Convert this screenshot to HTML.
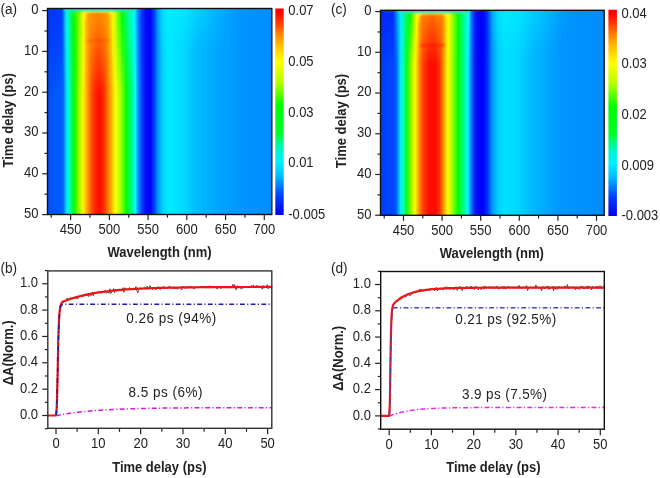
<!DOCTYPE html>
<html><head><meta charset="utf-8"><style>
html,body{margin:0;padding:0;background:#fff;}
svg{display:block;filter:blur(0.4px);}
text{font-family:"Liberation Sans", sans-serif;fill:#222;}
</style></head><body>
<svg width="660" height="478" viewBox="0 0 660 478">
<defs><linearGradient id="aspec" x1="0" y1="0" x2="1" y2="0"><stop offset="0.0000" stop-color="rgb(0,80,255)"/><stop offset="0.0557" stop-color="rgb(0,90,255)"/><stop offset="0.0700" stop-color="rgb(0,100,255)"/><stop offset="0.0780" stop-color="rgb(0,170,255)"/><stop offset="0.0869" stop-color="rgb(0,240,255)"/><stop offset="0.1003" stop-color="rgb(0,255,170)"/><stop offset="0.1173" stop-color="rgb(0,255,0)"/><stop offset="0.1404" stop-color="rgb(150,255,0)"/><stop offset="0.1578" stop-color="rgb(255,255,0)"/><stop offset="0.1748" stop-color="rgb(255,170,0)"/><stop offset="0.1917" stop-color="rgb(255,95,0)"/><stop offset="0.2082" stop-color="rgb(255,45,0)"/><stop offset="0.2265" stop-color="rgb(255,15,0)"/><stop offset="0.2407" stop-color="rgb(255,25,0)"/><stop offset="0.2564" stop-color="rgb(255,65,0)"/><stop offset="0.2773" stop-color="rgb(255,150,0)"/><stop offset="0.3027" stop-color="rgb(255,255,0)"/><stop offset="0.3246" stop-color="rgb(170,255,0)"/><stop offset="0.3518" stop-color="rgb(0,255,0)"/><stop offset="0.3754" stop-color="rgb(0,255,140)"/><stop offset="0.3923" stop-color="rgb(0,255,255)"/><stop offset="0.4035" stop-color="rgb(0,140,255)"/><stop offset="0.4222" stop-color="rgb(0,60,255)"/><stop offset="0.4391" stop-color="rgb(0,10,250)"/><stop offset="0.4592" stop-color="rgb(0,5,250)"/><stop offset="0.4770" stop-color="rgb(0,70,255)"/><stop offset="0.4918" stop-color="rgb(0,150,255)"/><stop offset="0.5149" stop-color="rgb(0,215,255)"/><stop offset="0.5386" stop-color="rgb(0,235,255)"/><stop offset="0.6130" stop-color="rgb(0,215,255)"/><stop offset="0.6576" stop-color="rgb(0,190,255)"/><stop offset="0.7601" stop-color="rgb(0,165,255)"/><stop offset="0.8582" stop-color="rgb(0,150,255)"/><stop offset="1.0009" stop-color="rgb(0,140,255)"/></linearGradient>
<linearGradient id="acb" x1="0" y1="0" x2="0" y2="1"><stop offset="0.0000" stop-color="rgb(255,0,0)"/><stop offset="0.0200" stop-color="rgb(255,0,0)"/><stop offset="0.0700" stop-color="rgb(255,60,0)"/><stop offset="0.1300" stop-color="rgb(255,140,0)"/><stop offset="0.2000" stop-color="rgb(255,210,0)"/><stop offset="0.2600" stop-color="rgb(255,255,0)"/><stop offset="0.3600" stop-color="rgb(180,255,0)"/><stop offset="0.4700" stop-color="rgb(0,255,0)"/><stop offset="0.6000" stop-color="rgb(0,255,40)"/><stop offset="0.6800" stop-color="rgb(0,245,200)"/><stop offset="0.7450" stop-color="rgb(0,240,255)"/><stop offset="0.8100" stop-color="rgb(0,190,255)"/><stop offset="0.9100" stop-color="rgb(0,60,255)"/><stop offset="1.0000" stop-color="rgb(0,0,230)"/></linearGradient>
<linearGradient id="aearlyh" x1="0" y1="0" x2="1" y2="0"><stop offset="0.0000" stop-color="rgb(0,55,255)"/><stop offset="0.1200" stop-color="rgb(0,60,255)"/><stop offset="0.1548" stop-color="rgb(0,240,255)"/><stop offset="0.2177" stop-color="rgb(0,255,0)"/><stop offset="0.2674" stop-color="rgb(150,255,0)"/><stop offset="0.2980" stop-color="rgb(255,255,0)"/><stop offset="0.3187" stop-color="rgb(255,185,0)"/><stop offset="0.3435" stop-color="rgb(255,150,0)"/><stop offset="0.4180" stop-color="rgb(255,125,0)"/><stop offset="0.4925" stop-color="rgb(255,150,0)"/><stop offset="0.5174" stop-color="rgb(255,185,0)"/><stop offset="0.5406" stop-color="rgb(255,255,0)"/><stop offset="0.5671" stop-color="rgb(170,255,0)"/><stop offset="0.6192" stop-color="rgb(0,255,0)"/><stop offset="0.6664" stop-color="rgb(0,255,140)"/><stop offset="0.7194" stop-color="rgb(0,255,255)"/><stop offset="0.7492" stop-color="rgb(0,130,255)"/><stop offset="0.7839" stop-color="rgb(0,50,255)"/><stop offset="0.8154" stop-color="rgb(0,10,250)"/><stop offset="0.8526" stop-color="rgb(0,5,250)"/><stop offset="0.8858" stop-color="rgb(0,70,255)"/><stop offset="0.9131" stop-color="rgb(0,150,255)"/><stop offset="0.9561" stop-color="rgb(0,215,255)"/><stop offset="1.0000" stop-color="rgb(0,235,255)"/></linearGradient>
<linearGradient id="aearlyv" x1="0" y1="0" x2="0" y2="1"><stop offset="0.0000" stop-color="rgb(255,255,255)"/><stop offset="0.1400" stop-color="rgb(255,255,255)"/><stop offset="1.0000" stop-color="rgb(0,0,0)"/></linearGradient>
<mask id="aearlym" maskContentUnits="userSpaceOnUse"><rect x="47.5" y="8.5" width="120.8" height="85" fill="url(#aearlyv)"/></mask>
<filter id="aearlyblur" x="-20%" y="-20%" width="140%" height="140%"><feGaussianBlur stdDeviation="1.1"/></filter>
<clipPath id="aclip"><rect x="47.5" y="8.5" width="224.3" height="206"/></clipPath>
<linearGradient id="aearlyhz" x1="0" y1="0" x2="0" y2="1"><stop offset="0.0000" stop-color="rgb(0,240,255)" stop-opacity="0.55"/><stop offset="1.0000" stop-color="rgb(0,240,255)" stop-opacity="0"/></linearGradient>
<linearGradient id="aearlyhzh" x1="0" y1="0" x2="1" y2="0"><stop offset="0.0000" stop-color="rgb(0,0,0)"/><stop offset="0.1800" stop-color="rgb(255,255,255)"/><stop offset="0.3500" stop-color="rgb(255,255,255)"/><stop offset="1.0000" stop-color="rgb(0,0,0)"/></linearGradient>
<mask id="aearlyhzm" maskContentUnits="userSpaceOnUse"><rect x="155" y="8.5" width="80" height="45" fill="url(#aearlyhzh)"/></mask>
<linearGradient id="cspec" x1="0" y1="0" x2="1" y2="0"><stop offset="0.0000" stop-color="rgb(0,60,255)"/><stop offset="0.0559" stop-color="rgb(0,70,255)"/><stop offset="0.0702" stop-color="rgb(0,90,255)"/><stop offset="0.0805" stop-color="rgb(0,170,255)"/><stop offset="0.0903" stop-color="rgb(0,240,255)"/><stop offset="0.1042" stop-color="rgb(0,255,170)"/><stop offset="0.1162" stop-color="rgb(0,255,20)"/><stop offset="0.1363" stop-color="rgb(150,255,0)"/><stop offset="0.1542" stop-color="rgb(255,255,0)"/><stop offset="0.1730" stop-color="rgb(255,140,0)"/><stop offset="0.1913" stop-color="rgb(255,60,0)"/><stop offset="0.2168" stop-color="rgb(255,12,0)"/><stop offset="0.2481" stop-color="rgb(255,12,0)"/><stop offset="0.2660" stop-color="rgb(255,60,0)"/><stop offset="0.2807" stop-color="rgb(255,140,0)"/><stop offset="0.2995" stop-color="rgb(255,255,0)"/><stop offset="0.3187" stop-color="rgb(170,255,0)"/><stop offset="0.3456" stop-color="rgb(0,255,0)"/><stop offset="0.3728" stop-color="rgb(0,255,140)"/><stop offset="0.3898" stop-color="rgb(0,255,255)"/><stop offset="0.4046" stop-color="rgb(0,120,255)"/><stop offset="0.4211" stop-color="rgb(0,35,250)"/><stop offset="0.4359" stop-color="rgb(0,5,250)"/><stop offset="0.4537" stop-color="rgb(0,0,250)"/><stop offset="0.4671" stop-color="rgb(0,20,250)"/><stop offset="0.4806" stop-color="rgb(0,60,255)"/><stop offset="0.4993" stop-color="rgb(0,150,255)"/><stop offset="0.5266" stop-color="rgb(0,210,255)"/><stop offset="0.5565" stop-color="rgb(0,225,255)"/><stop offset="0.6147" stop-color="rgb(0,215,255)"/><stop offset="0.6683" stop-color="rgb(0,190,255)"/><stop offset="0.8024" stop-color="rgb(0,150,255)"/><stop offset="1.0000" stop-color="rgb(0,140,255)"/></linearGradient>
<linearGradient id="ccb" x1="0" y1="0" x2="0" y2="1"><stop offset="0.0000" stop-color="rgb(255,0,0)"/><stop offset="0.0200" stop-color="rgb(255,0,0)"/><stop offset="0.0700" stop-color="rgb(255,60,0)"/><stop offset="0.1300" stop-color="rgb(255,140,0)"/><stop offset="0.2000" stop-color="rgb(255,210,0)"/><stop offset="0.2600" stop-color="rgb(255,255,0)"/><stop offset="0.3600" stop-color="rgb(180,255,0)"/><stop offset="0.4700" stop-color="rgb(0,255,0)"/><stop offset="0.6000" stop-color="rgb(0,255,40)"/><stop offset="0.6800" stop-color="rgb(0,245,200)"/><stop offset="0.7450" stop-color="rgb(0,240,255)"/><stop offset="0.8100" stop-color="rgb(0,190,255)"/><stop offset="0.9100" stop-color="rgb(0,60,255)"/><stop offset="1.0000" stop-color="rgb(0,0,230)"/></linearGradient>
<linearGradient id="cearlyh" x1="0" y1="0" x2="1" y2="0"><stop offset="0.0000" stop-color="rgb(0,40,250)"/><stop offset="0.1061" stop-color="rgb(0,45,250)"/><stop offset="0.1715" stop-color="rgb(0,240,255)"/><stop offset="0.2487" stop-color="rgb(0,255,0)"/><stop offset="0.2844" stop-color="rgb(150,255,0)"/><stop offset="0.3056" stop-color="rgb(255,255,0)"/><stop offset="0.3268" stop-color="rgb(255,180,0)"/><stop offset="0.3523" stop-color="rgb(255,130,0)"/><stop offset="0.4372" stop-color="rgb(255,100,0)"/><stop offset="0.5221" stop-color="rgb(255,130,0)"/><stop offset="0.5475" stop-color="rgb(255,180,0)"/><stop offset="0.5730" stop-color="rgb(255,255,0)"/><stop offset="0.6070" stop-color="rgb(170,255,0)"/><stop offset="0.6604" stop-color="rgb(0,255,0)"/><stop offset="0.7003" stop-color="rgb(0,255,140)"/><stop offset="0.7504" stop-color="rgb(0,255,255)"/><stop offset="0.7683" stop-color="rgb(0,120,255)"/><stop offset="0.7997" stop-color="rgb(0,35,250)"/><stop offset="0.8277" stop-color="rgb(0,5,250)"/><stop offset="0.8616" stop-color="rgb(0,0,250)"/><stop offset="0.8871" stop-color="rgb(0,20,250)"/><stop offset="0.9126" stop-color="rgb(0,60,255)"/><stop offset="0.9482" stop-color="rgb(0,150,255)"/><stop offset="1.0000" stop-color="rgb(0,210,255)"/></linearGradient>
<linearGradient id="cearlyv" x1="0" y1="0" x2="0" y2="1"><stop offset="0.0000" stop-color="rgb(255,255,255)"/><stop offset="0.1200" stop-color="rgb(255,255,255)"/><stop offset="1.0000" stop-color="rgb(0,0,0)"/></linearGradient>
<mask id="cearlym" maskContentUnits="userSpaceOnUse"><rect x="380.5" y="10.3" width="117.8" height="54" fill="url(#cearlyv)"/></mask>
<filter id="cearlyblur" x="-20%" y="-20%" width="140%" height="140%"><feGaussianBlur stdDeviation="1.1"/></filter>
<clipPath id="cclip"><rect x="380.5" y="10.3" width="223.7" height="205"/></clipPath>
<linearGradient id="cearlyhz" x1="0" y1="0" x2="0" y2="1"><stop offset="0.0000" stop-color="rgb(0,240,255)" stop-opacity="0.55"/><stop offset="1.0000" stop-color="rgb(0,240,255)" stop-opacity="0"/></linearGradient>
<linearGradient id="cearlyhzh" x1="0" y1="0" x2="1" y2="0"><stop offset="0.0000" stop-color="rgb(0,0,0)"/><stop offset="0.1800" stop-color="rgb(255,255,255)"/><stop offset="0.3500" stop-color="rgb(255,255,255)"/><stop offset="1.0000" stop-color="rgb(0,0,0)"/></linearGradient>
<mask id="cearlyhzm" maskContentUnits="userSpaceOnUse"><rect x="487" y="10.3" width="83" height="45" fill="url(#cearlyhzh)"/></mask></defs>
<rect width="660" height="478" fill="#fff"/>
<rect x="47.50" y="8.50" width="224.30" height="206.00" fill="url(#aspec)"/>
<g clip-path="url(#aclip)">
<rect x="47.5" y="8.5" width="120.8" height="85" fill="url(#aearlyh)" mask="url(#aearlym)"/>
<g filter="url(#aearlyblur)">
<path d="M82.7,7.5 L113.8,7.5 L113.8,20.5 L111.8,20.5 Q111.8,13 107,12.7 L89.5,12.7 Q84.7,13 84.7,20.5 L82.7,20.5 Z" fill="rgb(255,240,0)"/>
<rect x="66" y="7.5" width="69" height="4.2" fill="rgb(60,235,140)"/>
<rect x="64" y="7.5" width="73" height="2.6" fill="rgb(0,215,230)"/>
<rect x="44.5" y="6.5" width="17" height="3.2" fill="rgb(0,70,255)" opacity="0.6"/>
<rect x="86.5" y="39.3" width="23.5" height="2.4" fill="rgb(255,0,0)" opacity="0.2"/>
</g>
<rect x="155" y="8.5" width="80" height="45" fill="url(#aearlyhz)" mask="url(#aearlyhzm)"/>
</g>
<rect x="47.50" y="8.50" width="224.30" height="206.00" fill="none" stroke="#111" stroke-width="1.4"/>
<rect x="275.30" y="8.50" width="8.40" height="206.50" fill="url(#acb)"/>
<line x1="42.20" y1="10.60" x2="47.50" y2="10.60" stroke="#222" stroke-width="1.2"/>
<text transform="translate(38.50,14.00) scale(1,1.06)" font-size="13" text-anchor="end" font-weight="normal" >0</text>
<line x1="44.50" y1="31.00" x2="47.50" y2="31.00" stroke="#222" stroke-width="1.2"/>
<line x1="42.20" y1="51.40" x2="47.50" y2="51.40" stroke="#222" stroke-width="1.2"/>
<text transform="translate(38.50,54.80) scale(1,1.06)" font-size="13" text-anchor="end" font-weight="normal" >10</text>
<line x1="44.50" y1="71.80" x2="47.50" y2="71.80" stroke="#222" stroke-width="1.2"/>
<line x1="42.20" y1="92.20" x2="47.50" y2="92.20" stroke="#222" stroke-width="1.2"/>
<text transform="translate(38.50,95.60) scale(1,1.06)" font-size="13" text-anchor="end" font-weight="normal" >20</text>
<line x1="44.50" y1="112.60" x2="47.50" y2="112.60" stroke="#222" stroke-width="1.2"/>
<line x1="42.20" y1="133.00" x2="47.50" y2="133.00" stroke="#222" stroke-width="1.2"/>
<text transform="translate(38.50,136.40) scale(1,1.06)" font-size="13" text-anchor="end" font-weight="normal" >30</text>
<line x1="44.50" y1="153.40" x2="47.50" y2="153.40" stroke="#222" stroke-width="1.2"/>
<line x1="42.20" y1="173.80" x2="47.50" y2="173.80" stroke="#222" stroke-width="1.2"/>
<text transform="translate(38.50,177.20) scale(1,1.06)" font-size="13" text-anchor="end" font-weight="normal" >40</text>
<line x1="44.50" y1="194.20" x2="47.50" y2="194.20" stroke="#222" stroke-width="1.2"/>
<line x1="42.20" y1="214.60" x2="47.50" y2="214.60" stroke="#222" stroke-width="1.2"/>
<text transform="translate(38.50,218.00) scale(1,1.06)" font-size="13" text-anchor="end" font-weight="normal" >50</text>
<line x1="51.23" y1="214.50" x2="51.23" y2="217.70" stroke="#222" stroke-width="1.2"/>
<line x1="70.60" y1="214.50" x2="70.60" y2="220.00" stroke="#222" stroke-width="1.2"/>
<text transform="translate(70.60,233.60) scale(1,1.06)" font-size="13" text-anchor="middle" font-weight="normal" >450</text>
<line x1="89.97" y1="214.50" x2="89.97" y2="217.70" stroke="#222" stroke-width="1.2"/>
<line x1="109.34" y1="214.50" x2="109.34" y2="220.00" stroke="#222" stroke-width="1.2"/>
<text transform="translate(109.34,233.60) scale(1,1.06)" font-size="13" text-anchor="middle" font-weight="normal" >500</text>
<line x1="128.71" y1="214.50" x2="128.71" y2="217.70" stroke="#222" stroke-width="1.2"/>
<line x1="148.08" y1="214.50" x2="148.08" y2="220.00" stroke="#222" stroke-width="1.2"/>
<text transform="translate(148.08,233.60) scale(1,1.06)" font-size="13" text-anchor="middle" font-weight="normal" >550</text>
<line x1="167.45" y1="214.50" x2="167.45" y2="217.70" stroke="#222" stroke-width="1.2"/>
<line x1="186.82" y1="214.50" x2="186.82" y2="220.00" stroke="#222" stroke-width="1.2"/>
<text transform="translate(186.82,233.60) scale(1,1.06)" font-size="13" text-anchor="middle" font-weight="normal" >600</text>
<line x1="206.19" y1="214.50" x2="206.19" y2="217.70" stroke="#222" stroke-width="1.2"/>
<line x1="225.56" y1="214.50" x2="225.56" y2="220.00" stroke="#222" stroke-width="1.2"/>
<text transform="translate(225.56,233.60) scale(1,1.06)" font-size="13" text-anchor="middle" font-weight="normal" >650</text>
<line x1="244.93" y1="214.50" x2="244.93" y2="217.70" stroke="#222" stroke-width="1.2"/>
<line x1="264.30" y1="214.50" x2="264.30" y2="220.00" stroke="#222" stroke-width="1.2"/>
<text transform="translate(264.30,233.60) scale(1,1.06)" font-size="13" text-anchor="middle" font-weight="normal" >700</text>
<text transform="translate(288.30,14.60) scale(1,1.06)" font-size="13" text-anchor="start" font-weight="normal" >0.07</text>
<text transform="translate(288.30,66.30) scale(1,1.06)" font-size="13" text-anchor="start" font-weight="normal" >0.05</text>
<text transform="translate(288.30,116.60) scale(1,1.06)" font-size="13" text-anchor="start" font-weight="normal" >0.03</text>
<text transform="translate(288.30,167.40) scale(1,1.06)" font-size="13" text-anchor="start" font-weight="normal" >0.01</text>
<text transform="translate(288.30,219.10) scale(1,1.06)" font-size="13" text-anchor="start" font-weight="normal" >-0.005</text>
<text transform="translate(107.50,257.00) scale(1,1.06)" font-size="13" text-anchor="start" font-weight="bold" >Wavelength (nm)</text>
<text transform="translate(12.50,120.30) rotate(-90) scale(1,1.08)" font-size="13" text-anchor="middle" font-weight="bold" >Time delay (ps)</text>
<text transform="translate(0.50,13.70) scale(1,1.06)" font-size="13.6" text-anchor="start" font-weight="normal" >(a)</text><rect x="380.50" y="10.30" width="223.70" height="205.00" fill="url(#cspec)"/>
<g clip-path="url(#cclip)">
<rect x="380.5" y="10.3" width="117.8" height="54" fill="url(#cearlyh)" mask="url(#cearlym)"/>
<g filter="url(#cearlyblur)">
<path d="M416.2,9.3 L448.8,9.3 L448.8,22.3 L446.8,22.3 Q446.8,14.8 442,14.5 L423,14.5 Q418.2,14.8 418.2,22.3 L416.2,22.3 Z" fill="rgb(255,240,0)"/>
<rect x="399" y="9.3" width="68" height="4.2" fill="rgb(60,235,140)"/>
<rect x="397" y="9.3" width="72" height="2.6" fill="rgb(0,215,230)"/>
<rect x="377.5" y="8.3" width="17" height="3.2" fill="rgb(0,70,255)" opacity="0.6"/>
<rect x="420" y="44.1" width="25" height="2.4" fill="rgb(255,0,0)" opacity="0.45"/>
</g>
<rect x="487" y="10.3" width="83" height="45" fill="url(#cearlyhz)" mask="url(#cearlyhzm)"/>
</g>
<rect x="380.50" y="10.30" width="223.70" height="205.00" fill="none" stroke="#111" stroke-width="1.4"/>
<rect x="608.40" y="9.70" width="8.50" height="206.30" fill="url(#ccb)"/>
<line x1="375.20" y1="11.60" x2="380.50" y2="11.60" stroke="#222" stroke-width="1.2"/>
<text transform="translate(371.50,15.00) scale(1,1.06)" font-size="13" text-anchor="end" font-weight="normal" >0</text>
<line x1="377.50" y1="31.96" x2="380.50" y2="31.96" stroke="#222" stroke-width="1.2"/>
<line x1="375.20" y1="52.32" x2="380.50" y2="52.32" stroke="#222" stroke-width="1.2"/>
<text transform="translate(371.50,55.72) scale(1,1.06)" font-size="13" text-anchor="end" font-weight="normal" >10</text>
<line x1="377.50" y1="72.68" x2="380.50" y2="72.68" stroke="#222" stroke-width="1.2"/>
<line x1="375.20" y1="93.04" x2="380.50" y2="93.04" stroke="#222" stroke-width="1.2"/>
<text transform="translate(371.50,96.44) scale(1,1.06)" font-size="13" text-anchor="end" font-weight="normal" >20</text>
<line x1="377.50" y1="113.40" x2="380.50" y2="113.40" stroke="#222" stroke-width="1.2"/>
<line x1="375.20" y1="133.76" x2="380.50" y2="133.76" stroke="#222" stroke-width="1.2"/>
<text transform="translate(371.50,137.16) scale(1,1.06)" font-size="13" text-anchor="end" font-weight="normal" >30</text>
<line x1="377.50" y1="154.12" x2="380.50" y2="154.12" stroke="#222" stroke-width="1.2"/>
<line x1="375.20" y1="174.48" x2="380.50" y2="174.48" stroke="#222" stroke-width="1.2"/>
<text transform="translate(371.50,177.88) scale(1,1.06)" font-size="13" text-anchor="end" font-weight="normal" >40</text>
<line x1="377.50" y1="194.84" x2="380.50" y2="194.84" stroke="#222" stroke-width="1.2"/>
<line x1="375.20" y1="215.20" x2="380.50" y2="215.20" stroke="#222" stroke-width="1.2"/>
<text transform="translate(371.50,218.60) scale(1,1.06)" font-size="13" text-anchor="end" font-weight="normal" >50</text>
<line x1="384.20" y1="215.30" x2="384.20" y2="218.50" stroke="#222" stroke-width="1.2"/>
<line x1="403.50" y1="215.30" x2="403.50" y2="220.80" stroke="#222" stroke-width="1.2"/>
<text transform="translate(403.50,235.10) scale(1,1.06)" font-size="13" text-anchor="middle" font-weight="normal" >450</text>
<line x1="422.80" y1="215.30" x2="422.80" y2="218.50" stroke="#222" stroke-width="1.2"/>
<line x1="442.10" y1="215.30" x2="442.10" y2="220.80" stroke="#222" stroke-width="1.2"/>
<text transform="translate(442.10,235.10) scale(1,1.06)" font-size="13" text-anchor="middle" font-weight="normal" >500</text>
<line x1="461.40" y1="215.30" x2="461.40" y2="218.50" stroke="#222" stroke-width="1.2"/>
<line x1="480.70" y1="215.30" x2="480.70" y2="220.80" stroke="#222" stroke-width="1.2"/>
<text transform="translate(480.70,235.10) scale(1,1.06)" font-size="13" text-anchor="middle" font-weight="normal" >550</text>
<line x1="500.00" y1="215.30" x2="500.00" y2="218.50" stroke="#222" stroke-width="1.2"/>
<line x1="519.30" y1="215.30" x2="519.30" y2="220.80" stroke="#222" stroke-width="1.2"/>
<text transform="translate(519.30,235.10) scale(1,1.06)" font-size="13" text-anchor="middle" font-weight="normal" >600</text>
<line x1="538.60" y1="215.30" x2="538.60" y2="218.50" stroke="#222" stroke-width="1.2"/>
<line x1="557.90" y1="215.30" x2="557.90" y2="220.80" stroke="#222" stroke-width="1.2"/>
<text transform="translate(557.90,235.10) scale(1,1.06)" font-size="13" text-anchor="middle" font-weight="normal" >650</text>
<line x1="577.20" y1="215.30" x2="577.20" y2="218.50" stroke="#222" stroke-width="1.2"/>
<line x1="596.50" y1="215.30" x2="596.50" y2="220.80" stroke="#222" stroke-width="1.2"/>
<text transform="translate(596.50,235.10) scale(1,1.06)" font-size="13" text-anchor="middle" font-weight="normal" >700</text>
<text transform="translate(621.50,17.50) scale(1,1.06)" font-size="13" text-anchor="start" font-weight="normal" >0.04</text>
<text transform="translate(621.50,68.40) scale(1,1.06)" font-size="13" text-anchor="start" font-weight="normal" >0.03</text>
<text transform="translate(621.50,119.30) scale(1,1.06)" font-size="13" text-anchor="start" font-weight="normal" >0.02</text>
<text transform="translate(621.50,170.00) scale(1,1.06)" font-size="13" text-anchor="start" font-weight="normal" >0.009</text>
<text transform="translate(621.50,219.90) scale(1,1.06)" font-size="13" text-anchor="start" font-weight="normal" >-0.003</text>
<text transform="translate(439.70,258.40) scale(1,1.06)" font-size="13" text-anchor="start" font-weight="bold" >Wavelength (nm)</text>
<text transform="translate(345.70,121.00) rotate(-90) scale(1,1.08)" font-size="13" text-anchor="middle" font-weight="bold" >Time delay (ps)</text>
<text transform="translate(331.00,14.20) scale(1,1.06)" font-size="13.6" text-anchor="start" font-weight="normal" >(c)</text><line x1="44.90" y1="428.68" x2="47.80" y2="428.68" stroke="#222" stroke-width="1.2"/>
<line x1="42.20" y1="415.50" x2="47.80" y2="415.50" stroke="#222" stroke-width="1.2"/>
<text transform="translate(38.00,419.10) scale(1,1.06)" font-size="13" text-anchor="end" font-weight="normal" >0.0</text>
<line x1="44.90" y1="402.32" x2="47.80" y2="402.32" stroke="#222" stroke-width="1.2"/>
<line x1="42.20" y1="389.15" x2="47.80" y2="389.15" stroke="#222" stroke-width="1.2"/>
<text transform="translate(38.00,392.75) scale(1,1.06)" font-size="13" text-anchor="end" font-weight="normal" >0.2</text>
<line x1="44.90" y1="375.98" x2="47.80" y2="375.98" stroke="#222" stroke-width="1.2"/>
<line x1="42.20" y1="362.80" x2="47.80" y2="362.80" stroke="#222" stroke-width="1.2"/>
<text transform="translate(38.00,366.40) scale(1,1.06)" font-size="13" text-anchor="end" font-weight="normal" >0.4</text>
<line x1="44.90" y1="349.62" x2="47.80" y2="349.62" stroke="#222" stroke-width="1.2"/>
<line x1="42.20" y1="336.45" x2="47.80" y2="336.45" stroke="#222" stroke-width="1.2"/>
<text transform="translate(38.00,340.05) scale(1,1.06)" font-size="13" text-anchor="end" font-weight="normal" >0.6</text>
<line x1="44.90" y1="323.27" x2="47.80" y2="323.27" stroke="#222" stroke-width="1.2"/>
<line x1="42.20" y1="310.10" x2="47.80" y2="310.10" stroke="#222" stroke-width="1.2"/>
<text transform="translate(38.00,313.70) scale(1,1.06)" font-size="13" text-anchor="end" font-weight="normal" >0.8</text>
<line x1="44.90" y1="296.93" x2="47.80" y2="296.93" stroke="#222" stroke-width="1.2"/>
<line x1="42.20" y1="283.75" x2="47.80" y2="283.75" stroke="#222" stroke-width="1.2"/>
<text transform="translate(38.00,287.35) scale(1,1.06)" font-size="13" text-anchor="end" font-weight="normal" >1.0</text>
<line x1="44.90" y1="270.57" x2="47.80" y2="270.57" stroke="#222" stroke-width="1.2"/>
<line x1="56.00" y1="428.30" x2="56.00" y2="434.30" stroke="#222" stroke-width="1.2"/>
<text transform="translate(56.00,447.80) scale(1,1.06)" font-size="13" text-anchor="middle" font-weight="normal" >0</text>
<line x1="77.16" y1="428.30" x2="77.16" y2="431.80" stroke="#222" stroke-width="1.2"/>
<line x1="98.32" y1="428.30" x2="98.32" y2="434.30" stroke="#222" stroke-width="1.2"/>
<text transform="translate(98.32,447.80) scale(1,1.06)" font-size="13" text-anchor="middle" font-weight="normal" >10</text>
<line x1="119.48" y1="428.30" x2="119.48" y2="431.80" stroke="#222" stroke-width="1.2"/>
<line x1="140.64" y1="428.30" x2="140.64" y2="434.30" stroke="#222" stroke-width="1.2"/>
<text transform="translate(140.64,447.80) scale(1,1.06)" font-size="13" text-anchor="middle" font-weight="normal" >20</text>
<line x1="161.80" y1="428.30" x2="161.80" y2="431.80" stroke="#222" stroke-width="1.2"/>
<line x1="182.96" y1="428.30" x2="182.96" y2="434.30" stroke="#222" stroke-width="1.2"/>
<text transform="translate(182.96,447.80) scale(1,1.06)" font-size="13" text-anchor="middle" font-weight="normal" >30</text>
<line x1="204.12" y1="428.30" x2="204.12" y2="431.80" stroke="#222" stroke-width="1.2"/>
<line x1="225.28" y1="428.30" x2="225.28" y2="434.30" stroke="#222" stroke-width="1.2"/>
<text transform="translate(225.28,447.80) scale(1,1.06)" font-size="13" text-anchor="middle" font-weight="normal" >40</text>
<line x1="246.44" y1="428.30" x2="246.44" y2="431.80" stroke="#222" stroke-width="1.2"/>
<line x1="267.60" y1="428.30" x2="267.60" y2="434.30" stroke="#222" stroke-width="1.2"/>
<text transform="translate(267.60,447.80) scale(1,1.06)" font-size="13" text-anchor="middle" font-weight="normal" >50</text>
<path d="M47.54,415.50 L48.47,415.50 L49.40,415.50 L50.33,415.50 L51.26,415.50 L52.19,415.50 L53.12,415.50 L54.05,415.50 L54.98,415.50 L55.92,414.95 L56.85,404.30 L57.78,365.36 L58.71,327.65 L59.64,311.26 L60.57,305.44 L61.50,303.13 L62.43,300.84 L63.36,302.70 L64.29,300.11 L65.23,301.12 L66.16,300.76 L67.09,297.99 L68.02,299.61 L68.95,299.50 L69.88,298.32 L70.81,297.56 L71.74,298.55 L72.67,297.56 L73.61,299.02 L74.54,298.06 L75.47,297.87 L76.40,298.60 L77.33,298.54 L78.26,298.42 L79.19,296.61 L80.12,296.30 L81.05,296.23 L81.98,295.56 L82.92,296.91 L83.85,295.29 L84.78,294.72 L85.71,293.94 L86.64,295.53 L87.57,294.83 L88.50,296.45 L89.43,294.57 L90.36,296.29 L91.29,295.24 L92.23,292.25 L93.16,295.78 L94.09,292.25 L95.02,292.62 L95.95,293.18 L96.88,292.17 L97.81,291.94 L98.74,291.22 L99.67,292.51 L100.61,292.78 L101.54,292.66 L102.47,292.96 L103.40,291.78 L104.33,292.48 L105.26,290.29 L106.19,293.46 L107.12,292.48 L108.05,292.21 L108.98,293.38 L109.92,288.80 L110.85,293.52 L111.78,291.04 L112.71,291.22 L113.64,288.68 L114.57,292.66 L115.50,289.15 L116.43,291.08 L117.36,290.35 L118.30,290.84 L119.23,289.29 L120.16,291.21 L121.09,289.94 L122.02,289.38 L122.95,287.65 L123.88,292.33 L124.81,287.86 L125.74,288.44 L126.67,289.97 L127.61,289.03 L128.54,289.83 L129.47,287.40 L130.40,288.95 L131.33,289.37 L132.26,289.33 L133.19,289.24 L134.12,289.16 L135.05,289.89 L135.98,286.55 L136.92,290.95 L137.85,292.80 L138.78,288.85 L139.71,288.83 L140.64,288.20 L141.57,288.81 L142.50,288.70 L143.43,288.12 L144.36,287.37 L145.30,288.92 L146.23,288.79 L147.16,286.16 L148.09,287.71 L149.02,289.37 L149.95,285.63 L150.88,287.33 L151.81,288.82 L152.74,289.45 L153.67,287.77 L154.61,289.00 L155.54,289.23 L156.47,289.46 L157.40,288.55 L158.33,286.72 L159.26,288.42 L160.19,289.53 L161.12,287.13 L162.05,287.78 L162.98,286.89 L163.92,286.46 L164.85,287.97 L165.78,287.92 L166.71,287.79 L167.64,288.99 L168.57,286.95 L169.50,286.14 L170.43,287.46 L171.36,287.91 L172.30,287.91 L173.23,288.48 L174.16,288.49 L175.09,288.02 L176.02,288.49 L176.95,288.02 L177.88,289.29 L178.81,287.11 L179.74,287.43 L180.67,288.76 L181.61,290.03 L182.54,287.45 L183.47,286.20 L184.40,288.24 L185.33,287.95 L186.26,288.03 L187.19,286.65 L188.12,288.39 L189.05,286.25 L189.99,287.68 L190.92,286.30 L191.85,287.29 L192.78,287.57 L193.71,288.96 L194.64,288.06 L195.57,287.58 L196.50,286.53 L197.43,286.99 L198.36,288.04 L199.30,286.79 L200.23,286.13 L201.16,287.40 L202.09,287.71 L203.02,287.65 L203.95,286.30 L204.88,286.60 L205.81,288.23 L206.74,286.76 L207.67,287.71 L208.61,288.01 L209.54,285.78 L210.47,286.24 L211.40,287.96 L212.33,287.06 L213.26,286.58 L214.19,287.85 L215.12,287.26 L216.05,286.38 L216.99,289.12 L217.92,286.74 L218.85,286.28 L219.78,286.54 L220.71,288.60 L221.64,286.74 L222.57,288.05 L223.50,286.44 L224.43,286.40 L225.36,286.83 L226.30,287.93 L227.23,287.73 L228.16,286.11 L229.09,288.06 L230.02,286.50 L230.95,286.48 L231.88,287.36 L232.81,284.36 L233.74,286.96 L234.68,284.63 L235.61,289.29 L236.54,289.54 L237.47,285.93 L238.40,286.31 L239.33,287.37 L240.26,287.08 L241.19,289.15 L242.12,287.72 L243.05,288.17 L243.99,287.26 L244.92,286.01 L245.85,286.94 L246.78,286.59 L247.71,287.78 L248.64,287.48 L249.57,286.87 L250.50,287.31 L251.43,285.57 L252.36,287.97 L253.30,284.87 L254.23,288.08 L255.16,285.80 L256.09,287.85 L257.02,285.13 L257.95,286.82 L258.88,286.53 L259.81,286.14 L260.74,287.68 L261.68,288.14 L262.61,289.24 L263.54,285.60 L264.47,287.75 L265.40,287.63 L266.33,287.00 L267.26,284.74 L268.19,288.90 L269.12,286.68 L270.05,287.40 L270.99,286.36 L271.92,288.97" fill="none" stroke="#2a2a2a" stroke-width="0.8"/>
<path d="M55.92,415.50 L56.00,415.50 L56.08,415.50 L56.17,415.50 L56.25,415.50 L56.34,415.49 L56.42,415.49 L56.51,415.49 L56.59,415.49 L56.68,415.48 L56.76,415.48 L56.85,415.48 L56.93,415.47 L57.02,415.46 L57.10,415.46 L57.18,415.45 L57.27,415.44 L57.35,415.43 L57.44,415.42 L57.52,415.41 L57.61,415.40 L57.69,415.38 L57.78,415.37 L57.86,415.36 L57.95,415.34 L58.03,415.33 L58.12,415.31 L58.20,415.29 L58.29,415.28 L58.37,415.26 L58.45,415.25 L58.54,415.23 L58.62,415.21 L58.71,415.20 L58.79,415.18 L58.88,415.16 L58.96,415.15 L59.05,415.13 L59.13,415.12 L59.22,415.10 L59.30,415.08 L59.39,415.07 L59.47,415.05 L59.55,415.03 L59.64,415.02 L59.72,415.00 L59.81,414.99 L59.89,414.97 L59.98,414.95 L60.06,414.94 L60.15,414.92 L60.23,414.91 L60.32,414.89 L60.40,414.87 L60.49,414.86 L60.57,414.84 L60.66,414.83 L60.74,414.81 L60.82,414.80 L60.91,414.78 L60.99,414.76 L61.08,414.75 L61.16,414.73 L61.25,414.72 L61.33,414.70 L61.42,414.69 L61.50,414.67 L61.59,414.66 L61.67,414.64 L61.76,414.63 L61.84,414.61 L61.92,414.59 L62.01,414.58 L62.09,414.56 L62.18,414.55 L62.26,414.53 L62.35,414.52 L62.43,414.50 L62.52,414.49 L62.60,414.47 L62.69,414.46 L62.77,414.44 L62.86,414.43 L62.94,414.41 L63.03,414.40 L63.11,414.39 L63.19,414.37 L63.28,414.36 L63.36,414.34 L63.45,414.33 L63.53,414.31 L63.62,414.30 L63.70,414.28 L63.79,414.27 L63.87,414.25 L63.96,414.24 L64.04,414.22 L64.13,414.21 L64.21,414.20 L64.29,414.18 L64.38,414.17 L64.46,414.15 L64.55,414.14 L64.63,414.12 L64.72,414.11 L64.80,414.10 L64.89,414.08 L64.97,414.07 L65.06,414.05 L65.14,414.04 L65.23,414.03 L65.31,414.01 L65.40,414.00 L65.48,413.98 L65.56,413.97 L65.65,413.96 L66.07,413.89 L66.50,413.82 L66.92,413.75 L67.34,413.69 L67.76,413.62 L68.19,413.55 L68.61,413.49 L69.03,413.43 L69.46,413.36 L69.88,413.30 L70.30,413.24 L70.73,413.18 L71.15,413.12 L71.57,413.06 L72.00,413.00 L72.42,412.94 L72.84,412.88 L73.27,412.83 L73.69,412.77 L74.11,412.71 L74.54,412.66 L74.96,412.60 L75.38,412.55 L75.81,412.50 L76.23,412.44 L76.65,412.39 L77.08,412.34 L77.50,412.29 L77.92,412.24 L78.34,412.19 L78.77,412.14 L79.19,412.09 L79.61,412.04 L80.04,411.99 L80.46,411.94 L80.88,411.90 L81.31,411.85 L81.73,411.80 L82.15,411.76 L82.58,411.71 L83.00,411.67 L83.42,411.62 L83.85,411.58 L84.27,411.54 L84.69,411.50 L85.12,411.45 L85.54,411.41 L85.96,411.37 L86.39,411.33 L86.81,411.29 L87.23,411.25 L87.66,411.21 L88.08,411.17 L88.50,411.13 L88.92,411.09 L89.35,411.06 L89.77,411.02 L90.19,410.98 L90.62,410.94 L91.04,410.91 L91.46,410.87 L91.89,410.84 L92.31,410.80 L92.73,410.77 L93.16,410.73 L93.58,410.70 L94.00,410.67 L94.43,410.63 L94.85,410.60 L95.27,410.57 L95.70,410.54 L96.12,410.50 L96.54,410.47 L96.97,410.44 L97.39,410.41 L97.81,410.38 L98.24,410.35 L98.66,410.32 L100.77,410.18 L102.89,410.04 L105.01,409.91 L107.12,409.79 L109.24,409.67 L111.35,409.56 L113.47,409.46 L115.59,409.36 L117.70,409.27 L119.82,409.18 L121.93,409.09 L124.05,409.01 L126.17,408.94 L128.28,408.87 L130.40,408.80 L132.51,408.74 L134.63,408.68 L136.75,408.62 L138.86,408.57 L140.98,408.51 L143.09,408.47 L145.21,408.42 L147.33,408.38 L149.44,408.33 L151.56,408.30 L153.67,408.26 L155.79,408.22 L157.91,408.19 L160.02,408.16 L162.14,408.13 L164.25,408.10 L166.37,408.07 L168.49,408.05 L170.60,408.02 L172.72,408.00 L174.83,407.98 L176.95,407.96 L179.07,407.94 L181.18,407.92 L183.30,407.90 L185.41,407.89 L187.53,407.87 L189.65,407.86 L191.76,407.84 L193.88,407.83 L195.99,407.82 L198.11,407.81 L200.23,407.80 L202.34,407.79 L204.46,407.77 L206.57,407.77 L208.69,407.76 L210.81,407.75 L212.92,407.74 L215.04,407.73 L217.15,407.72 L219.27,407.72 L221.39,407.71 L223.50,407.71 L225.62,407.70 L227.73,407.69 L229.85,407.69 L231.97,407.68 L234.08,407.68 L236.20,407.67 L238.31,407.67 L240.43,407.67 L242.55,407.66 L244.66,407.66 L246.78,407.66 L248.89,407.65 L251.01,407.65 L253.13,407.65 L255.24,407.64 L257.36,407.64 L259.47,407.64 L261.59,407.64 L263.71,407.63 L265.82,407.63 L267.94,407.63 L270.05,407.63 L272.17,407.63 L272.26,407.63" fill="none" stroke="#e010e0" stroke-width="1.5" stroke-dasharray="4.8 2.4 1.1 2.4"/>
<path d="M47.11,415.50 L47.54,415.50 L47.96,415.50 L48.38,415.50 L48.81,415.50 L49.23,415.50 L49.65,415.50 L50.08,415.50 L50.50,415.50 L50.92,415.50 L51.34,415.50 L51.77,415.50 L52.19,415.50 L52.61,415.50 L53.04,415.50 L53.12,415.50 L53.21,415.50 L53.29,415.50 L53.38,415.50 L53.46,415.50 L53.55,415.50 L53.63,415.50 L53.71,415.50 L53.80,415.50 L53.88,415.50 L53.97,415.50 L54.05,415.50 L54.14,415.50 L54.22,415.50 L54.31,415.50 L54.39,415.50 L54.48,415.50 L54.56,415.50 L54.65,415.50 L54.73,415.50 L54.82,415.50 L54.90,415.50 L54.98,415.50 L55.07,415.49 L55.15,415.49 L55.24,415.48 L55.32,415.47 L55.41,415.45 L55.49,415.42 L55.58,415.38 L55.66,415.32 L55.75,415.23 L55.83,415.10 L55.92,414.95 L56.00,414.70 L56.08,414.39 L56.17,414.02 L56.25,413.46 L56.34,412.78 L56.42,412.01 L56.51,410.91 L56.59,409.64 L56.68,408.25 L56.76,406.37 L56.85,404.30 L56.93,402.09 L57.02,399.30 L57.10,396.35 L57.18,393.28 L57.27,389.65 L57.35,385.93 L57.44,382.17 L57.52,377.97 L57.61,373.81 L57.69,369.70 L57.78,365.36 L57.86,361.17 L57.95,357.12 L58.03,353.04 L58.12,349.19 L58.20,345.54 L58.29,342.00 L58.37,338.71 L58.45,335.64 L58.54,332.75 L58.62,330.09 L58.71,327.65 L58.79,325.38 L58.88,323.31 L58.96,321.43 L59.05,319.70 L59.13,318.13 L59.22,316.69 L59.30,315.39 L59.39,314.21 L59.47,313.13 L59.55,312.15 L59.64,311.26 L59.72,310.45 L59.81,309.72 L59.89,309.05 L59.98,308.44 L60.06,307.88 L60.15,307.38 L60.23,306.92 L60.32,306.50 L60.40,306.11 L60.49,305.76 L60.57,305.44 L60.66,305.15 L60.74,304.88 L60.82,304.63 L60.91,304.40 L60.99,304.19 L61.08,304.00 L61.16,303.82 L61.25,303.66 L61.33,303.51 L61.42,303.37 L61.50,303.24 L61.59,303.11 L61.67,303.00 L61.76,302.90 L61.84,302.80 L61.92,302.70 L62.01,302.62 L62.09,302.53 L62.18,302.45 L62.26,302.38 L62.35,302.31 L62.43,302.24 L62.52,302.18 L62.60,302.12 L62.69,302.06 L62.77,302.00 L62.86,301.95 L62.94,301.90 L63.03,301.85 L63.11,301.80 L63.19,301.75 L63.28,301.71 L63.36,301.66 L63.45,301.62 L63.53,301.57 L63.62,301.53 L63.70,301.49 L63.79,301.45 L63.87,301.41 L63.96,301.37 L64.04,301.33 L64.13,301.29 L64.21,301.26 L64.29,301.22 L64.38,301.18 L64.46,301.15 L64.55,301.11 L64.63,301.07 L64.72,301.04 L64.80,301.00 L64.89,300.97 L64.97,300.94 L65.06,300.90 L65.14,300.87 L65.23,300.83 L65.31,300.80 L65.40,300.77 L65.48,300.73 L65.56,300.70 L65.65,300.67 L66.07,300.50 L66.50,300.34 L66.92,300.18 L67.34,300.03 L67.76,299.87 L68.19,299.72 L68.61,299.57 L69.03,299.42 L69.46,299.28 L69.88,299.13 L70.30,298.99 L70.73,298.85 L71.15,298.71 L71.57,298.57 L72.00,298.43 L72.42,298.30 L72.84,298.17 L73.27,298.04 L73.69,297.91 L74.11,297.78 L74.54,297.65 L74.96,297.52 L75.38,297.40 L75.81,297.28 L76.23,297.16 L76.65,297.04 L77.08,296.92 L77.50,296.80 L77.92,296.69 L78.34,296.57 L78.77,296.46 L79.19,296.35 L79.61,296.24 L80.04,296.13 L80.46,296.02 L80.88,295.91 L81.31,295.81 L81.73,295.70 L82.15,295.60 L82.58,295.50 L83.00,295.40 L83.42,295.30 L83.85,295.20 L84.27,295.10 L84.69,295.01 L85.12,294.91 L85.54,294.82 L85.96,294.73 L86.39,294.64 L86.81,294.55 L87.23,294.46 L87.66,294.37 L88.08,294.28 L88.50,294.19 L88.92,294.11 L89.35,294.03 L89.77,293.94 L90.19,293.86 L90.62,293.78 L91.04,293.70 L91.46,293.62 L91.89,293.54 L92.31,293.46 L92.73,293.39 L93.16,293.31 L93.58,293.24 L94.00,293.16 L94.43,293.09 L94.85,293.02 L95.27,292.95 L95.70,292.87 L96.12,292.80 L96.54,292.74 L96.97,292.67 L97.39,292.60 L97.81,292.53 L98.24,292.47 L98.66,292.40 L100.77,292.09 L102.89,291.79 L105.01,291.51 L107.12,291.25 L109.24,291.00 L111.35,290.77 L113.47,290.55 L115.59,290.34 L117.70,290.15 L119.82,289.96 L121.93,289.79 L124.05,289.62 L126.17,289.47 L128.28,289.32 L130.40,289.18 L132.51,289.05 L134.63,288.93 L136.75,288.82 L138.86,288.71 L140.98,288.61 L143.09,288.51 L145.21,288.42 L147.33,288.33 L149.44,288.25 L151.56,288.17 L153.67,288.10 L155.79,288.03 L157.91,287.97 L160.02,287.91 L162.14,287.85 L164.25,287.80 L166.37,287.75 L168.49,287.70 L170.60,287.66 L172.72,287.61 L174.83,287.57 L176.95,287.53 L179.07,287.50 L181.18,287.47 L183.30,287.43 L185.41,287.40 L187.53,287.38 L189.65,287.35 L191.76,287.32 L193.88,287.30 L195.99,287.28 L198.11,287.26 L200.23,287.24 L202.34,287.22 L204.46,287.20 L206.57,287.19 L208.69,287.17 L210.81,287.16 L212.92,287.14 L215.04,287.13 L217.15,287.12 L219.27,287.10 L221.39,287.09 L223.50,287.08 L225.62,287.07 L227.73,287.06 L229.85,287.06 L231.97,287.05 L234.08,287.04 L236.20,287.03 L238.31,287.03 L240.43,287.02 L242.55,287.01 L244.66,287.01 L246.78,287.00 L248.89,287.00 L251.01,286.99 L253.13,286.99 L255.24,286.98 L257.36,286.98 L259.47,286.97 L261.59,286.97 L263.71,286.97 L265.82,286.96 L267.94,286.96 L270.05,286.96 L272.17,286.96 L272.26,286.96" fill="none" stroke="#f01414" stroke-width="2.2" stroke-linejoin="round"/>
<path d="M55.92,414.95 L56.00,414.70 L56.08,414.39 L56.17,414.03 L56.25,413.47 L56.34,412.79 L56.42,412.03 L56.51,410.93 L56.59,409.67 L56.68,408.28 L56.76,406.41 L56.85,404.36 L56.93,402.16 L57.02,399.39 L57.10,396.46 L57.18,393.40 L57.27,389.79 L57.35,386.10 L57.44,382.36 L57.52,378.19 L57.61,374.06 L57.69,369.98 L57.78,365.67 L57.86,361.51 L57.95,357.50 L58.03,353.46 L58.12,349.64 L58.20,346.03 L58.29,342.52 L58.37,339.27 L58.45,336.24 L58.54,333.39 L58.62,330.77 L58.71,328.37 L58.79,326.14 L58.88,324.11 L58.96,322.26 L59.05,320.57 L59.13,319.04 L59.22,317.65 L59.30,316.38 L59.39,315.24 L59.47,314.20 L59.55,313.26 L59.64,312.41 L59.72,311.63 L59.81,310.94 L59.89,310.31 L59.98,309.73 L60.06,309.22 L60.15,308.75 L60.23,308.33 L60.32,307.94 L60.40,307.60 L60.49,307.28 L60.57,307.00 L60.66,306.74 L60.74,306.51 L60.82,306.30 L60.91,306.11 L60.99,305.94 L61.08,305.78 L61.16,305.64 L61.25,305.51 L61.33,305.40 L61.42,305.30 L61.50,305.20 L61.59,305.12 L61.67,305.04 L61.76,304.97 L61.84,304.90 L61.92,304.85 L62.01,304.80 L62.09,304.75 L62.18,304.71 L62.26,304.67 L62.35,304.63 L62.43,304.60 L62.52,304.57 L62.60,304.55 L62.69,304.52 L62.77,304.50 L62.86,304.48 L62.94,304.47 L63.03,304.45 L63.11,304.44 L63.19,304.42 L63.28,304.41 L63.36,304.40 L63.45,304.39 L63.53,304.38 L63.62,304.38 L63.70,304.37 L63.79,304.36 L63.87,304.36 L63.96,304.35 L64.04,304.35 L64.13,304.34 L64.21,304.34 L64.29,304.34 L64.38,304.33 L64.46,304.33 L64.55,304.33 L64.63,304.33 L64.72,304.32 L64.80,304.32 L64.89,304.32 L64.97,304.32 L65.06,304.32 L65.14,304.32 L65.23,304.31 L65.31,304.31 L65.40,304.31 L65.48,304.31 L65.56,304.31 L65.65,304.31 L66.07,304.31 L66.50,304.31 L66.92,304.30 L67.34,304.30 L67.76,304.30 L68.19,304.30 L68.61,304.30 L69.03,304.30 L69.46,304.30 L69.88,304.30 L70.30,304.30 L70.73,304.30 L71.15,304.30 L71.57,304.30 L72.00,304.30 L72.42,304.30 L72.84,304.30 L73.27,304.30 L73.69,304.30 L74.11,304.30 L74.54,304.30 L74.96,304.30 L75.38,304.30 L75.81,304.30 L76.23,304.30 L76.65,304.30 L77.08,304.30 L77.50,304.30 L77.92,304.30 L78.34,304.30 L78.77,304.30 L79.19,304.30 L79.61,304.30 L80.04,304.30 L80.46,304.30 L80.88,304.30 L81.31,304.30 L81.73,304.30 L82.15,304.30 L82.58,304.30 L83.00,304.30 L83.42,304.30 L83.85,304.30 L84.27,304.30 L84.69,304.30 L85.12,304.30 L85.54,304.30 L85.96,304.30 L86.39,304.30 L86.81,304.30 L87.23,304.30 L87.66,304.30 L88.08,304.30 L88.50,304.30 L88.92,304.30 L89.35,304.30 L89.77,304.30 L90.19,304.30 L90.62,304.30 L91.04,304.30 L91.46,304.30 L91.89,304.30 L92.31,304.30 L92.73,304.30 L93.16,304.30 L93.58,304.30 L94.00,304.30 L94.43,304.30 L94.85,304.30 L95.27,304.30 L95.70,304.30 L96.12,304.30 L96.54,304.30 L96.97,304.30 L97.39,304.30 L97.81,304.30 L98.24,304.30 L98.66,304.30 L100.77,304.30 L102.89,304.30 L105.01,304.30 L107.12,304.30 L109.24,304.30 L111.35,304.30 L113.47,304.30 L115.59,304.30 L117.70,304.30 L119.82,304.30 L121.93,304.30 L124.05,304.30 L126.17,304.30 L128.28,304.30 L130.40,304.30 L132.51,304.30 L134.63,304.30 L136.75,304.30 L138.86,304.30 L140.98,304.30 L143.09,304.30 L145.21,304.30 L147.33,304.30 L149.44,304.30 L151.56,304.30 L153.67,304.30 L155.79,304.30 L157.91,304.30 L160.02,304.30 L162.14,304.30 L164.25,304.30 L166.37,304.30 L168.49,304.30 L170.60,304.30 L172.72,304.30 L174.83,304.30 L176.95,304.30 L179.07,304.30 L181.18,304.30 L183.30,304.30 L185.41,304.30 L187.53,304.30 L189.65,304.30 L191.76,304.30 L193.88,304.30 L195.99,304.30 L198.11,304.30 L200.23,304.30 L202.34,304.30 L204.46,304.30 L206.57,304.30 L208.69,304.30 L210.81,304.30 L212.92,304.30 L215.04,304.30 L217.15,304.30 L219.27,304.30 L221.39,304.30 L223.50,304.30 L225.62,304.30 L227.73,304.30 L229.85,304.30 L231.97,304.30 L234.08,304.30 L236.20,304.30 L238.31,304.30 L240.43,304.30 L242.55,304.30 L244.66,304.30 L246.78,304.30 L248.89,304.30 L251.01,304.30 L253.13,304.30 L255.24,304.30 L257.36,304.30 L259.47,304.30 L261.59,304.30 L263.71,304.30 L265.82,304.30 L267.94,304.30 L270.05,304.30 L272.17,304.30 L272.26,304.30" fill="none" stroke="#1c1ca8" stroke-width="1.5" stroke-dasharray="4.8 2.4 1.1 2.4"/>
<rect x="47.80" y="270.90" width="224.00" height="157.40" fill="none" stroke="#333" stroke-width="1.4"/>
<text transform="translate(126.30,322.80) scale(1,1.06)" font-size="13.5" text-anchor="start" font-weight="normal" textLength="90" lengthAdjust="spacing">0.26 ps (94%)</text>
<text transform="translate(128.60,397.40) scale(1,1.06)" font-size="13.5" text-anchor="start" font-weight="normal" textLength="74" lengthAdjust="spacing">8.5 ps (6%)</text>
<text transform="translate(112.20,471.50) scale(1,1.06)" font-size="13" text-anchor="start" font-weight="bold" >Time delay (ps)</text>
<text transform="translate(12.50,352.80) rotate(-90) scale(1,1.08)" font-size="13" text-anchor="middle" font-weight="bold" >&#916;A(Norm.)</text>
<text transform="translate(0.50,273.00) scale(1,1.06)" font-size="13.6" text-anchor="start" font-weight="normal" >(b)</text><line x1="377.80" y1="429.04" x2="380.70" y2="429.04" stroke="#222" stroke-width="1.2"/>
<line x1="375.10" y1="415.90" x2="380.70" y2="415.90" stroke="#222" stroke-width="1.2"/>
<text transform="translate(370.90,419.50) scale(1,1.06)" font-size="13" text-anchor="end" font-weight="normal" >0.0</text>
<line x1="377.80" y1="402.76" x2="380.70" y2="402.76" stroke="#222" stroke-width="1.2"/>
<line x1="375.10" y1="389.62" x2="380.70" y2="389.62" stroke="#222" stroke-width="1.2"/>
<text transform="translate(370.90,393.22) scale(1,1.06)" font-size="13" text-anchor="end" font-weight="normal" >0.2</text>
<line x1="377.80" y1="376.48" x2="380.70" y2="376.48" stroke="#222" stroke-width="1.2"/>
<line x1="375.10" y1="363.34" x2="380.70" y2="363.34" stroke="#222" stroke-width="1.2"/>
<text transform="translate(370.90,366.94) scale(1,1.06)" font-size="13" text-anchor="end" font-weight="normal" >0.4</text>
<line x1="377.80" y1="350.20" x2="380.70" y2="350.20" stroke="#222" stroke-width="1.2"/>
<line x1="375.10" y1="337.06" x2="380.70" y2="337.06" stroke="#222" stroke-width="1.2"/>
<text transform="translate(370.90,340.66) scale(1,1.06)" font-size="13" text-anchor="end" font-weight="normal" >0.6</text>
<line x1="377.80" y1="323.92" x2="380.70" y2="323.92" stroke="#222" stroke-width="1.2"/>
<line x1="375.10" y1="310.78" x2="380.70" y2="310.78" stroke="#222" stroke-width="1.2"/>
<text transform="translate(370.90,314.38) scale(1,1.06)" font-size="13" text-anchor="end" font-weight="normal" >0.8</text>
<line x1="377.80" y1="297.64" x2="380.70" y2="297.64" stroke="#222" stroke-width="1.2"/>
<line x1="375.10" y1="284.50" x2="380.70" y2="284.50" stroke="#222" stroke-width="1.2"/>
<text transform="translate(370.90,288.10) scale(1,1.06)" font-size="13" text-anchor="end" font-weight="normal" >1.0</text>
<line x1="377.80" y1="271.36" x2="380.70" y2="271.36" stroke="#222" stroke-width="1.2"/>
<line x1="389.20" y1="429.20" x2="389.20" y2="435.20" stroke="#222" stroke-width="1.2"/>
<text transform="translate(389.20,448.50) scale(1,1.06)" font-size="13" text-anchor="middle" font-weight="normal" >0</text>
<line x1="410.31" y1="429.20" x2="410.31" y2="432.70" stroke="#222" stroke-width="1.2"/>
<line x1="431.42" y1="429.20" x2="431.42" y2="435.20" stroke="#222" stroke-width="1.2"/>
<text transform="translate(431.42,448.50) scale(1,1.06)" font-size="13" text-anchor="middle" font-weight="normal" >10</text>
<line x1="452.53" y1="429.20" x2="452.53" y2="432.70" stroke="#222" stroke-width="1.2"/>
<line x1="473.64" y1="429.20" x2="473.64" y2="435.20" stroke="#222" stroke-width="1.2"/>
<text transform="translate(473.64,448.50) scale(1,1.06)" font-size="13" text-anchor="middle" font-weight="normal" >20</text>
<line x1="494.75" y1="429.20" x2="494.75" y2="432.70" stroke="#222" stroke-width="1.2"/>
<line x1="515.86" y1="429.20" x2="515.86" y2="435.20" stroke="#222" stroke-width="1.2"/>
<text transform="translate(515.86,448.50) scale(1,1.06)" font-size="13" text-anchor="middle" font-weight="normal" >30</text>
<line x1="536.97" y1="429.20" x2="536.97" y2="432.70" stroke="#222" stroke-width="1.2"/>
<line x1="558.08" y1="429.20" x2="558.08" y2="435.20" stroke="#222" stroke-width="1.2"/>
<text transform="translate(558.08,448.50) scale(1,1.06)" font-size="13" text-anchor="middle" font-weight="normal" >40</text>
<line x1="579.19" y1="429.20" x2="579.19" y2="432.70" stroke="#222" stroke-width="1.2"/>
<line x1="600.30" y1="429.20" x2="600.30" y2="435.20" stroke="#222" stroke-width="1.2"/>
<text transform="translate(600.30,448.50) scale(1,1.06)" font-size="13" text-anchor="middle" font-weight="normal" >50</text>
<path d="M380.76,415.90 L381.68,415.90 L382.61,415.90 L383.54,415.90 L384.47,415.90 L385.40,415.90 L386.33,415.90 L387.26,415.90 L388.19,415.90 L389.12,415.41 L390.04,390.96 L390.97,333.59 L391.90,311.82 L392.83,306.00 L393.76,303.95 L394.69,303.11 L395.62,301.36 L396.55,301.39 L397.48,300.75 L398.40,300.73 L399.33,299.27 L400.26,297.17 L401.19,297.35 L402.12,296.11 L403.05,296.46 L403.98,295.80 L404.91,295.56 L405.83,297.18 L406.76,293.95 L407.69,293.94 L408.62,293.57 L409.55,295.66 L410.48,295.39 L411.41,294.11 L412.34,293.34 L413.27,292.20 L414.19,292.32 L415.12,291.43 L416.05,292.49 L416.98,291.21 L417.91,290.90 L418.84,291.87 L419.77,289.03 L420.70,290.14 L421.62,289.26 L422.55,291.12 L423.48,291.11 L424.41,290.52 L425.34,290.12 L426.27,289.16 L427.20,289.47 L428.13,290.13 L429.06,290.59 L429.98,290.00 L430.91,287.96 L431.84,290.14 L432.77,288.87 L433.70,288.59 L434.63,290.65 L435.56,288.86 L436.49,287.39 L437.42,291.03 L438.34,289.08 L439.27,288.78 L440.20,289.52 L441.13,288.00 L442.06,288.57 L442.99,290.09 L443.92,287.49 L444.85,287.62 L445.77,287.28 L446.70,286.69 L447.63,287.85 L448.56,288.09 L449.49,289.65 L450.42,287.48 L451.35,288.82 L452.28,288.62 L453.21,289.50 L454.13,289.14 L455.06,288.63 L455.99,286.58 L456.92,290.27 L457.85,289.61 L458.78,287.69 L459.71,286.33 L460.64,287.28 L461.57,290.04 L462.49,290.71 L463.42,287.49 L464.35,288.70 L465.28,289.11 L466.21,286.76 L467.14,286.61 L468.07,287.65 L469.00,287.54 L469.92,287.32 L470.85,286.02 L471.78,287.10 L472.71,287.21 L473.64,287.17 L474.57,289.52 L475.50,286.33 L476.43,286.69 L477.36,287.16 L478.28,289.95 L479.21,288.45 L480.14,286.80 L481.07,289.76 L482.00,287.93 L482.93,286.59 L483.86,289.19 L484.79,285.92 L485.71,287.10 L486.64,287.88 L487.57,287.34 L488.50,286.98 L489.43,287.57 L490.36,286.42 L491.29,288.44 L492.22,288.16 L493.15,286.53 L494.07,287.66 L495.00,288.67 L495.93,286.63 L496.86,286.05 L497.79,288.18 L498.72,289.22 L499.65,287.83 L500.58,287.84 L501.51,288.01 L502.43,286.11 L503.36,288.82 L504.29,286.27 L505.22,289.09 L506.15,288.55 L507.08,286.96 L508.01,286.41 L508.94,286.71 L509.86,287.28 L510.79,287.51 L511.72,287.50 L512.65,287.02 L513.58,287.86 L514.51,287.35 L515.44,287.02 L516.37,287.66 L517.30,286.81 L518.22,287.03 L519.15,285.42 L520.08,287.30 L521.01,288.14 L521.94,288.08 L522.87,287.67 L523.80,286.63 L524.73,288.04 L525.66,287.23 L526.58,285.61 L527.51,290.52 L528.44,288.91 L529.37,287.39 L530.30,287.21 L531.23,287.39 L532.16,288.14 L533.09,286.93 L534.01,287.34 L534.94,288.24 L535.87,284.94 L536.80,287.26 L537.73,288.28 L538.66,287.77 L539.59,287.91 L540.52,287.73 L541.45,290.70 L542.37,288.20 L543.30,286.53 L544.23,288.96 L545.16,287.73 L546.09,286.59 L547.02,286.70 L547.95,285.99 L548.88,289.56 L549.80,288.05 L550.73,288.04 L551.66,286.96 L552.59,286.44 L553.52,290.65 L554.45,286.44 L555.38,289.27 L556.31,286.89 L557.24,289.32 L558.16,287.46 L559.09,286.32 L560.02,287.82 L560.95,287.44 L561.88,286.76 L562.81,287.50 L563.74,287.75 L564.67,285.94 L565.60,286.48 L566.52,287.98 L567.45,284.59 L568.38,288.93 L569.31,286.63 L570.24,287.95 L571.17,287.51 L572.10,286.87 L573.03,287.41 L573.95,286.94 L574.88,289.36 L575.81,289.34 L576.74,286.97 L577.67,288.73 L578.60,288.80 L579.53,289.30 L580.46,286.24 L581.39,286.82 L582.31,286.01 L583.24,288.70 L584.17,287.65 L585.10,288.93 L586.03,286.80 L586.96,285.88 L587.89,288.65 L588.82,285.91 L589.74,286.55 L590.67,287.85 L591.60,289.86 L592.53,286.08 L593.46,287.76 L594.39,288.33 L595.32,287.21 L596.25,287.20 L597.18,285.98 L598.10,288.79 L599.03,286.38 L599.96,285.99 L600.89,286.03 L601.82,287.86 L602.75,288.48 L603.68,286.52 L604.61,287.52" fill="none" stroke="#2a2a2a" stroke-width="0.8"/>
<path d="M389.12,415.90 L389.20,415.90 L389.28,415.90 L389.37,415.89 L389.45,415.89 L389.54,415.89 L389.62,415.88 L389.71,415.87 L389.79,415.86 L389.88,415.85 L389.96,415.83 L390.04,415.81 L390.13,415.79 L390.21,415.76 L390.30,415.74 L390.38,415.71 L390.47,415.68 L390.55,415.65 L390.64,415.62 L390.72,415.58 L390.80,415.55 L390.89,415.52 L390.97,415.48 L391.06,415.45 L391.14,415.42 L391.23,415.38 L391.31,415.35 L391.40,415.31 L391.48,415.28 L391.56,415.25 L391.65,415.22 L391.73,415.18 L391.82,415.15 L391.90,415.12 L391.99,415.09 L392.07,415.05 L392.16,415.02 L392.24,414.99 L392.32,414.96 L392.41,414.93 L392.49,414.89 L392.58,414.86 L392.66,414.83 L392.75,414.80 L392.83,414.77 L392.92,414.74 L393.00,414.71 L393.08,414.68 L393.17,414.65 L393.25,414.62 L393.34,414.59 L393.42,414.56 L393.51,414.53 L393.59,414.50 L393.68,414.47 L393.76,414.44 L393.84,414.41 L393.93,414.38 L394.01,414.35 L394.10,414.32 L394.18,414.29 L394.27,414.26 L394.35,414.23 L394.44,414.20 L394.52,414.18 L394.60,414.15 L394.69,414.12 L394.77,414.09 L394.86,414.06 L394.94,414.03 L395.03,414.01 L395.11,413.98 L395.20,413.95 L395.28,413.92 L395.36,413.90 L395.45,413.87 L395.53,413.84 L395.62,413.82 L395.70,413.79 L395.79,413.76 L395.87,413.74 L395.96,413.71 L396.04,413.68 L396.12,413.66 L396.21,413.63 L396.29,413.60 L396.38,413.58 L396.46,413.55 L396.55,413.53 L396.63,413.50 L396.72,413.47 L396.80,413.45 L396.88,413.42 L396.97,413.40 L397.05,413.37 L397.14,413.35 L397.22,413.32 L397.31,413.30 L397.39,413.27 L397.48,413.25 L397.56,413.23 L397.64,413.20 L397.73,413.18 L397.81,413.15 L397.90,413.13 L397.98,413.10 L398.07,413.08 L398.15,413.06 L398.24,413.03 L398.32,413.01 L398.40,412.99 L398.83,412.87 L399.25,412.76 L399.67,412.65 L400.09,412.54 L400.51,412.43 L400.94,412.33 L401.36,412.23 L401.78,412.13 L402.20,412.03 L402.63,411.93 L403.05,411.84 L403.47,411.75 L403.89,411.66 L404.31,411.57 L404.74,411.48 L405.16,411.40 L405.58,411.32 L406.00,411.24 L406.43,411.16 L406.85,411.08 L407.27,411.01 L407.69,410.93 L408.11,410.86 L408.54,410.79 L408.96,410.72 L409.38,410.65 L409.80,410.58 L410.23,410.52 L410.65,410.46 L411.07,410.39 L411.49,410.33 L411.91,410.27 L412.34,410.21 L412.76,410.16 L413.18,410.10 L413.60,410.05 L414.03,409.99 L414.45,409.94 L414.87,409.89 L415.29,409.84 L415.71,409.79 L416.14,409.74 L416.56,409.69 L416.98,409.65 L417.40,409.60 L417.83,409.56 L418.25,409.51 L418.67,409.47 L419.09,409.43 L419.51,409.39 L419.94,409.35 L420.36,409.31 L420.78,409.27 L421.20,409.23 L421.62,409.20 L422.05,409.16 L422.47,409.12 L422.89,409.09 L423.31,409.06 L423.74,409.02 L424.16,408.99 L424.58,408.96 L425.00,408.93 L425.42,408.90 L425.85,408.87 L426.27,408.84 L426.69,408.81 L427.11,408.78 L427.54,408.76 L427.96,408.73 L428.38,408.70 L428.80,408.68 L429.22,408.65 L429.65,408.63 L430.07,408.60 L430.49,408.58 L430.91,408.56 L431.34,408.54 L431.76,408.51 L433.87,408.41 L435.98,408.32 L438.09,408.23 L440.20,408.16 L442.31,408.09 L444.42,408.03 L446.53,407.98 L448.65,407.93 L450.76,407.88 L452.87,407.84 L454.98,407.81 L457.09,407.78 L459.20,407.75 L461.31,407.72 L463.42,407.70 L465.53,407.68 L467.64,407.66 L469.76,407.64 L471.87,407.63 L473.98,407.61 L476.09,407.60 L478.20,407.59 L480.31,407.58 L482.42,407.57 L484.53,407.56 L486.64,407.55 L488.75,407.55 L490.87,407.54 L492.98,407.54 L495.09,407.53 L497.20,407.53 L499.31,407.52 L501.42,407.52 L503.53,407.52 L505.64,407.52 L507.75,407.51 L509.86,407.51 L511.98,407.51 L514.09,407.51 L516.20,407.50 L518.31,407.50 L520.42,407.50 L522.53,407.50 L524.64,407.50 L526.75,407.50 L528.86,407.50 L530.97,407.50 L533.09,407.50 L535.20,407.50 L537.31,407.50 L539.42,407.49 L541.53,407.49 L543.64,407.49 L545.75,407.49 L547.86,407.49 L549.97,407.49 L552.08,407.49 L554.20,407.49 L556.31,407.49 L558.42,407.49 L560.53,407.49 L562.64,407.49 L564.75,407.49 L566.86,407.49 L568.97,407.49 L571.08,407.49 L573.19,407.49 L575.31,407.49 L577.42,407.49 L579.53,407.49 L581.64,407.49 L583.75,407.49 L585.86,407.49 L587.97,407.49 L590.08,407.49 L592.19,407.49 L594.30,407.49 L596.42,407.49 L598.53,407.49 L600.64,407.49 L602.75,407.49 L604.86,407.49 L604.94,407.49" fill="none" stroke="#f020f0" stroke-width="1.5" stroke-dasharray="4.8 2.4 1.1 2.4"/>
<path d="M380.33,415.90 L380.76,415.90 L381.18,415.90 L381.60,415.90 L382.02,415.90 L382.44,415.90 L382.87,415.90 L383.29,415.90 L383.71,415.90 L384.13,415.90 L384.56,415.90 L384.98,415.90 L385.40,415.90 L385.82,415.90 L385.91,415.90 L385.99,415.90 L386.08,415.90 L386.16,415.90 L386.24,415.90 L386.33,415.90 L386.41,415.90 L386.50,415.90 L386.58,415.90 L386.67,415.90 L386.75,415.90 L386.84,415.90 L386.92,415.90 L387.00,415.90 L387.09,415.90 L387.17,415.90 L387.26,415.90 L387.34,415.90 L387.43,415.90 L387.51,415.90 L387.60,415.90 L387.68,415.90 L387.76,415.90 L387.85,415.90 L387.93,415.90 L388.02,415.90 L388.10,415.90 L388.19,415.90 L388.27,415.90 L388.36,415.90 L388.44,415.90 L388.52,415.90 L388.61,415.89 L388.69,415.88 L388.78,415.86 L388.86,415.82 L388.95,415.74 L389.03,415.62 L389.12,415.41 L389.20,415.09 L389.28,414.58 L389.37,413.84 L389.45,412.79 L389.54,411.33 L389.62,409.40 L389.71,406.92 L389.79,403.84 L389.88,400.13 L389.96,395.82 L390.04,390.96 L390.13,385.64 L390.21,379.97 L390.30,374.09 L390.38,368.15 L390.47,362.28 L390.55,356.61 L390.64,351.23 L390.72,346.20 L390.80,341.58 L390.89,337.38 L390.97,333.59 L391.06,330.20 L391.14,327.19 L391.23,324.52 L391.31,322.16 L391.40,320.08 L391.48,318.24 L391.56,316.62 L391.65,315.19 L391.73,313.92 L391.82,312.80 L391.90,311.82 L391.99,310.94 L392.07,310.16 L392.16,309.47 L392.24,308.85 L392.32,308.30 L392.41,307.81 L392.49,307.37 L392.58,306.97 L392.66,306.61 L392.75,306.29 L392.83,306.00 L392.92,305.73 L393.00,305.49 L393.08,305.26 L393.17,305.05 L393.25,304.86 L393.34,304.69 L393.42,304.52 L393.51,304.37 L393.59,304.22 L393.68,304.08 L393.76,303.95 L393.84,303.83 L393.93,303.71 L394.01,303.60 L394.10,303.49 L394.18,303.39 L394.27,303.29 L394.35,303.19 L394.44,303.09 L394.52,303.00 L394.60,302.91 L394.69,302.82 L394.77,302.73 L394.86,302.65 L394.94,302.57 L395.03,302.48 L395.11,302.40 L395.20,302.32 L395.28,302.24 L395.36,302.16 L395.45,302.09 L395.53,302.01 L395.62,301.93 L395.70,301.86 L395.79,301.78 L395.87,301.71 L395.96,301.64 L396.04,301.56 L396.12,301.49 L396.21,301.42 L396.29,301.35 L396.38,301.28 L396.46,301.21 L396.55,301.14 L396.63,301.07 L396.72,301.00 L396.80,300.93 L396.88,300.86 L396.97,300.80 L397.05,300.73 L397.14,300.66 L397.22,300.59 L397.31,300.53 L397.39,300.46 L397.48,300.40 L397.56,300.33 L397.64,300.27 L397.73,300.20 L397.81,300.14 L397.90,300.07 L397.98,300.01 L398.07,299.95 L398.15,299.88 L398.24,299.82 L398.32,299.76 L398.40,299.70 L398.83,299.39 L399.25,299.09 L399.67,298.80 L400.09,298.52 L400.51,298.25 L400.94,297.98 L401.36,297.72 L401.78,297.46 L402.20,297.21 L402.63,296.97 L403.05,296.74 L403.47,296.51 L403.89,296.28 L404.31,296.06 L404.74,295.85 L405.16,295.64 L405.58,295.44 L406.00,295.24 L406.43,295.05 L406.85,294.86 L407.27,294.68 L407.69,294.50 L408.11,294.33 L408.54,294.16 L408.96,294.00 L409.38,293.84 L409.80,293.68 L410.23,293.53 L410.65,293.38 L411.07,293.23 L411.49,293.09 L411.91,292.95 L412.34,292.82 L412.76,292.69 L413.18,292.56 L413.60,292.44 L414.03,292.32 L414.45,292.20 L414.87,292.08 L415.29,291.97 L415.71,291.86 L416.14,291.76 L416.56,291.65 L416.98,291.55 L417.40,291.45 L417.83,291.36 L418.25,291.26 L418.67,291.17 L419.09,291.08 L419.51,290.99 L419.94,290.91 L420.36,290.83 L420.78,290.75 L421.20,290.67 L421.62,290.59 L422.05,290.52 L422.47,290.45 L422.89,290.38 L423.31,290.31 L423.74,290.24 L424.16,290.17 L424.58,290.11 L425.00,290.05 L425.42,289.99 L425.85,289.93 L426.27,289.87 L426.69,289.81 L427.11,289.76 L427.54,289.71 L427.96,289.65 L428.38,289.60 L428.80,289.55 L429.22,289.51 L429.65,289.46 L430.07,289.41 L430.49,289.37 L430.91,289.33 L431.34,289.28 L431.76,289.24 L433.87,289.05 L435.98,288.88 L438.09,288.73 L440.20,288.60 L442.31,288.49 L444.42,288.39 L446.53,288.30 L448.65,288.22 L450.76,288.15 L452.87,288.09 L454.98,288.04 L457.09,287.99 L459.20,287.95 L461.31,287.92 L463.42,287.89 L465.53,287.86 L467.64,287.83 L469.76,287.81 L471.87,287.79 L473.98,287.78 L476.09,287.76 L478.20,287.75 L480.31,287.74 L482.42,287.73 L484.53,287.72 L486.64,287.71 L488.75,287.70 L490.87,287.70 L492.98,287.69 L495.09,287.69 L497.20,287.68 L499.31,287.68 L501.42,287.68 L503.53,287.67 L505.64,287.67 L507.75,287.67 L509.86,287.67 L511.98,287.67 L514.09,287.66 L516.20,287.66 L518.31,287.66 L520.42,287.66 L522.53,287.66 L524.64,287.66 L526.75,287.66 L528.86,287.66 L530.97,287.66 L533.09,287.66 L535.20,287.66 L537.31,287.66 L539.42,287.66 L541.53,287.66 L543.64,287.66 L545.75,287.66 L547.86,287.65 L549.97,287.65 L552.08,287.65 L554.20,287.65 L556.31,287.65 L558.42,287.65 L560.53,287.65 L562.64,287.65 L564.75,287.65 L566.86,287.65 L568.97,287.65 L571.08,287.65 L573.19,287.65 L575.31,287.65 L577.42,287.65 L579.53,287.65 L581.64,287.65 L583.75,287.65 L585.86,287.65 L587.97,287.65 L590.08,287.65 L592.19,287.65 L594.30,287.65 L596.42,287.65 L598.53,287.65 L600.64,287.65 L602.75,287.65 L604.86,287.65 L604.94,287.65" fill="none" stroke="#f01414" stroke-width="2.2" stroke-linejoin="round"/>
<path d="M389.12,415.42 L389.20,415.09 L389.28,414.60 L389.37,413.86 L389.45,412.81 L389.54,411.37 L389.62,409.46 L389.71,407.00 L389.79,403.95 L389.88,400.29 L389.96,396.03 L390.04,391.22 L390.13,385.96 L390.21,380.36 L390.30,374.55 L390.38,368.70 L390.47,362.91 L390.55,357.33 L390.64,352.04 L390.72,347.11 L390.80,342.58 L390.89,338.47 L390.97,334.78 L391.06,331.49 L391.14,328.58 L391.23,326.00 L391.31,323.74 L391.40,321.75 L391.48,320.00 L391.56,318.48 L391.65,317.14 L391.73,315.97 L391.82,314.94 L391.90,314.05 L391.99,313.26 L392.07,312.57 L392.16,311.97 L392.24,311.45 L392.32,310.99 L392.41,310.58 L392.49,310.23 L392.58,309.92 L392.66,309.65 L392.75,309.42 L392.83,309.21 L392.92,309.03 L393.00,308.87 L393.08,308.73 L393.17,308.61 L393.25,308.50 L393.34,308.41 L393.42,308.33 L393.51,308.26 L393.59,308.19 L393.68,308.14 L393.76,308.09 L393.84,308.05 L393.93,308.01 L394.01,307.98 L394.10,307.95 L394.18,307.93 L394.27,307.91 L394.35,307.89 L394.44,307.87 L394.52,307.86 L394.60,307.85 L394.69,307.84 L394.77,307.83 L394.86,307.82 L394.94,307.81 L395.03,307.80 L395.11,307.80 L395.20,307.79 L395.28,307.79 L395.36,307.78 L395.45,307.78 L395.53,307.78 L395.62,307.78 L395.70,307.77 L395.79,307.77 L395.87,307.77 L395.96,307.77 L396.04,307.77 L396.12,307.77 L396.21,307.76 L396.29,307.76 L396.38,307.76 L396.46,307.76 L396.55,307.76 L396.63,307.76 L396.72,307.76 L396.80,307.76 L396.88,307.76 L396.97,307.76 L397.05,307.76 L397.14,307.76 L397.22,307.76 L397.31,307.76 L397.39,307.76 L397.48,307.76 L397.56,307.76 L397.64,307.76 L397.73,307.76 L397.81,307.76 L397.90,307.76 L397.98,307.76 L398.07,307.76 L398.15,307.76 L398.24,307.76 L398.32,307.76 L398.40,307.76 L398.83,307.76 L399.25,307.76 L399.67,307.76 L400.09,307.76 L400.51,307.76 L400.94,307.76 L401.36,307.76 L401.78,307.76 L402.20,307.76 L402.63,307.76 L403.05,307.76 L403.47,307.76 L403.89,307.76 L404.31,307.76 L404.74,307.76 L405.16,307.76 L405.58,307.76 L406.00,307.76 L406.43,307.76 L406.85,307.76 L407.27,307.76 L407.69,307.76 L408.11,307.76 L408.54,307.76 L408.96,307.76 L409.38,307.76 L409.80,307.76 L410.23,307.76 L410.65,307.76 L411.07,307.76 L411.49,307.76 L411.91,307.76 L412.34,307.76 L412.76,307.76 L413.18,307.76 L413.60,307.76 L414.03,307.76 L414.45,307.76 L414.87,307.76 L415.29,307.76 L415.71,307.76 L416.14,307.76 L416.56,307.76 L416.98,307.76 L417.40,307.76 L417.83,307.76 L418.25,307.76 L418.67,307.76 L419.09,307.76 L419.51,307.76 L419.94,307.76 L420.36,307.76 L420.78,307.76 L421.20,307.76 L421.62,307.76 L422.05,307.76 L422.47,307.76 L422.89,307.76 L423.31,307.76 L423.74,307.76 L424.16,307.76 L424.58,307.76 L425.00,307.76 L425.42,307.76 L425.85,307.76 L426.27,307.76 L426.69,307.76 L427.11,307.76 L427.54,307.76 L427.96,307.76 L428.38,307.76 L428.80,307.76 L429.22,307.76 L429.65,307.76 L430.07,307.76 L430.49,307.76 L430.91,307.76 L431.34,307.76 L431.76,307.76 L433.87,307.76 L435.98,307.76 L438.09,307.76 L440.20,307.76 L442.31,307.76 L444.42,307.76 L446.53,307.76 L448.65,307.76 L450.76,307.76 L452.87,307.76 L454.98,307.76 L457.09,307.76 L459.20,307.76 L461.31,307.76 L463.42,307.76 L465.53,307.76 L467.64,307.76 L469.76,307.76 L471.87,307.76 L473.98,307.76 L476.09,307.76 L478.20,307.76 L480.31,307.76 L482.42,307.76 L484.53,307.76 L486.64,307.76 L488.75,307.76 L490.87,307.76 L492.98,307.76 L495.09,307.76 L497.20,307.76 L499.31,307.76 L501.42,307.76 L503.53,307.76 L505.64,307.76 L507.75,307.76 L509.86,307.76 L511.98,307.76 L514.09,307.76 L516.20,307.76 L518.31,307.76 L520.42,307.76 L522.53,307.76 L524.64,307.76 L526.75,307.76 L528.86,307.76 L530.97,307.76 L533.09,307.76 L535.20,307.76 L537.31,307.76 L539.42,307.76 L541.53,307.76 L543.64,307.76 L545.75,307.76 L547.86,307.76 L549.97,307.76 L552.08,307.76 L554.20,307.76 L556.31,307.76 L558.42,307.76 L560.53,307.76 L562.64,307.76 L564.75,307.76 L566.86,307.76 L568.97,307.76 L571.08,307.76 L573.19,307.76 L575.31,307.76 L577.42,307.76 L579.53,307.76 L581.64,307.76 L583.75,307.76 L585.86,307.76 L587.97,307.76 L590.08,307.76 L592.19,307.76 L594.30,307.76 L596.42,307.76 L598.53,307.76 L600.64,307.76 L602.75,307.76 L604.86,307.76 L604.94,307.76" fill="none" stroke="#4646c0" stroke-width="1.5" stroke-dasharray="4.8 2.4 1.1 2.4"/>
<rect x="380.70" y="271.50" width="223.60" height="157.70" fill="none" stroke="#111" stroke-width="1.4"/>
<text transform="translate(455.20,323.50) scale(1,1.06)" font-size="13.5" text-anchor="start" font-weight="normal" textLength="101" lengthAdjust="spacing">0.21 ps (92.5%)</text>
<text transform="translate(462.00,398.50) scale(1,1.06)" font-size="13.5" text-anchor="start" font-weight="normal" textLength="85" lengthAdjust="spacing">3.9 ps (7.5%)</text>
<text transform="translate(446.20,472.30) scale(1,1.06)" font-size="13" text-anchor="start" font-weight="bold" >Time delay (ps)</text>
<text transform="translate(343.00,358.30) rotate(-90) scale(1,1.08)" font-size="13" text-anchor="middle" font-weight="bold" >&#916;A(Norm.)</text>
<text transform="translate(331.00,273.00) scale(1,1.06)" font-size="13.6" text-anchor="start" font-weight="normal" >(d)</text>
</svg></body></html>
